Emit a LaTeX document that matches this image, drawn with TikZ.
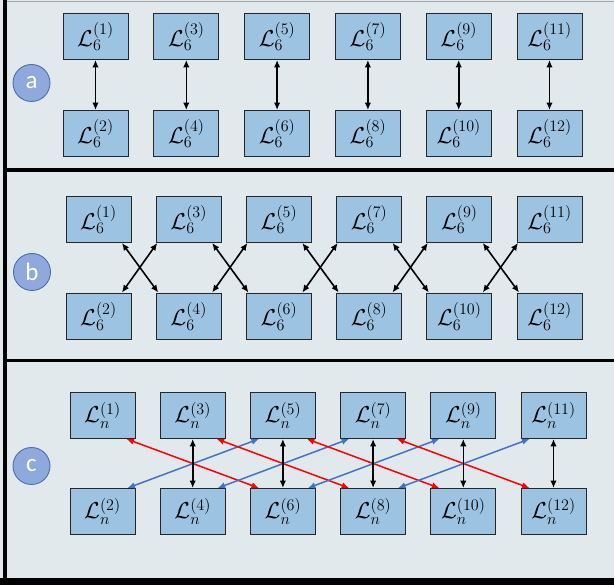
\RequirePackage{fix-cm}
\documentclass[tikz,border=0pt]{standalone}
\usepackage{fontspec}
\newfontfamily\circfont{Carlito}
\usetikzlibrary{arrows.meta}
\definecolor{panelbg}{HTML}{E2E9EC}
\definecolor{boxblue}{HTML}{9DC3E3}
\definecolor{circfill}{HTML}{8EA9DB}
\definecolor{circedge}{HTML}{4A6FB5}
\definecolor{linkred}{HTML}{FF0000}
\definecolor{linkblue}{HTML}{4472C4}
\tikzset{
  box/.style={draw=black!85, fill=boxblue, line width=0.9pt, minimum width=65pt,
    minimum height=46pt, inner sep=0pt, font=\fontsize{23}{27}\selectfont},
  tag/.style={circle, draw=circedge, fill=circfill, line width=0.9pt, minimum size=37pt,
    inner sep=0pt, text=white, font=\circfont\fontsize{25}{28}\selectfont},
  tips/.style={{Latex[length=7.5pt,width=6.5pt]}-{Latex[length=7.5pt,width=6.5pt]}},
  barrow/.style={tips, draw=black, line width=1.6pt},
  rarrow/.style={tips, draw=linkred, line width=1.5pt},
  larrow/.style={tips, draw=linkblue, line width=1.5pt},
}
\begin{document}
\begin{tikzpicture}[x=1pt,y=-1pt]
\useasboundingbox (0,0) rectangle (614,585);
\fill[panelbg] (0,0) rectangle (614,585);
% frame
\draw[gray!70, line width=1pt] (6,1.5) -- (614,1.5);
\fill[black] (3,0) rectangle (6.5,585);
\fill[black] (3,168.5) rectangle (614,172);
\fill[black] (3,359) rectangle (614,362.5);
\fill[black] (0,578.5) rectangle (614,585);
% tags
\node[tag] (ta) at (31.5,83) {a};
\node[tag] (tb) at (32,272) {b};
\node[tag] (tc) at (31.5,466) {c};
% panel a
\foreach \k in {1,...,6}{
  \pgfmathtruncatemacro\t{2*\k-1}
  \pgfmathtruncatemacro\b{2*\k}
  \node[box] (a\t) at ({95.5+90.8*(\k-1)},36.5) {$\mathcal{L}_6^{(\t)}$};
  \node[box] (a\b) at ({95.5+90.8*(\k-1)},133.5) {$\mathcal{L}_6^{(\b)}$};
  \draw[barrow] (a\t.south) -- (a\b.north);
}
% panel b
\foreach \k in {1,...,6}{
  \pgfmathtruncatemacro\t{2*\k-1}
  \pgfmathtruncatemacro\b{2*\k}
  \node[box] (b\t) at ({98.5+90.2*(\k-1)},219.5) {$\mathcal{L}_6^{(\t)}$};
  \node[box] (b\b) at ({98.5+90.2*(\k-1)},316) {$\mathcal{L}_6^{(\b)}$};
}
\foreach \k in {1,...,5}{
  \pgfmathtruncatemacro\t{2*\k-1}
  \pgfmathtruncatemacro\b{2*\k}
  \pgfmathtruncatemacro\tn{2*\k+1}
  \pgfmathtruncatemacro\bn{2*\k+2}
  \draw[barrow] ([xshift=-9.5pt]b\t.south east) -- ([xshift=2.5pt]b\bn.north west);
  \draw[barrow] ([xshift=1.5pt]b\tn.south west) -- ([xshift=-9.5pt]b\b.north east);
}
% panel c
\foreach \k in {1,...,6}{
  \pgfmathtruncatemacro\t{2*\k-1}
  \pgfmathtruncatemacro\b{2*\k}
  \node[box] (c\t) at ({102.5+90.2*(\k-1)},415.5) {$\mathcal{L}_n^{(\t)}$};
  \node[box] (c\b) at ({102.5+90.2*(\k-1)},511.5) {$\mathcal{L}_n^{(\b)}$};
}
\foreach \k in {1,...,4}{
  \pgfmathtruncatemacro\t{2*\k-1}
  \pgfmathtruncatemacro\b{2*\k}
  \pgfmathtruncatemacro\tt{2*\k+3}
  \pgfmathtruncatemacro\bb{2*\k+4}
  \draw[rarrow] ([xshift=-9pt]c\t.south east) -- ([xshift=9pt]c\bb.north west);
  \draw[larrow] ([xshift=-8pt]c\b.north east) -- ([xshift=9pt]c\tt.south west);
}
\foreach \k in {2,...,6}{
  \pgfmathtruncatemacro\t{2*\k-1}
  \pgfmathtruncatemacro\b{2*\k}
  \draw[barrow] (c\t.south) -- (c\b.north);
}
\end{tikzpicture}
\end{document}
